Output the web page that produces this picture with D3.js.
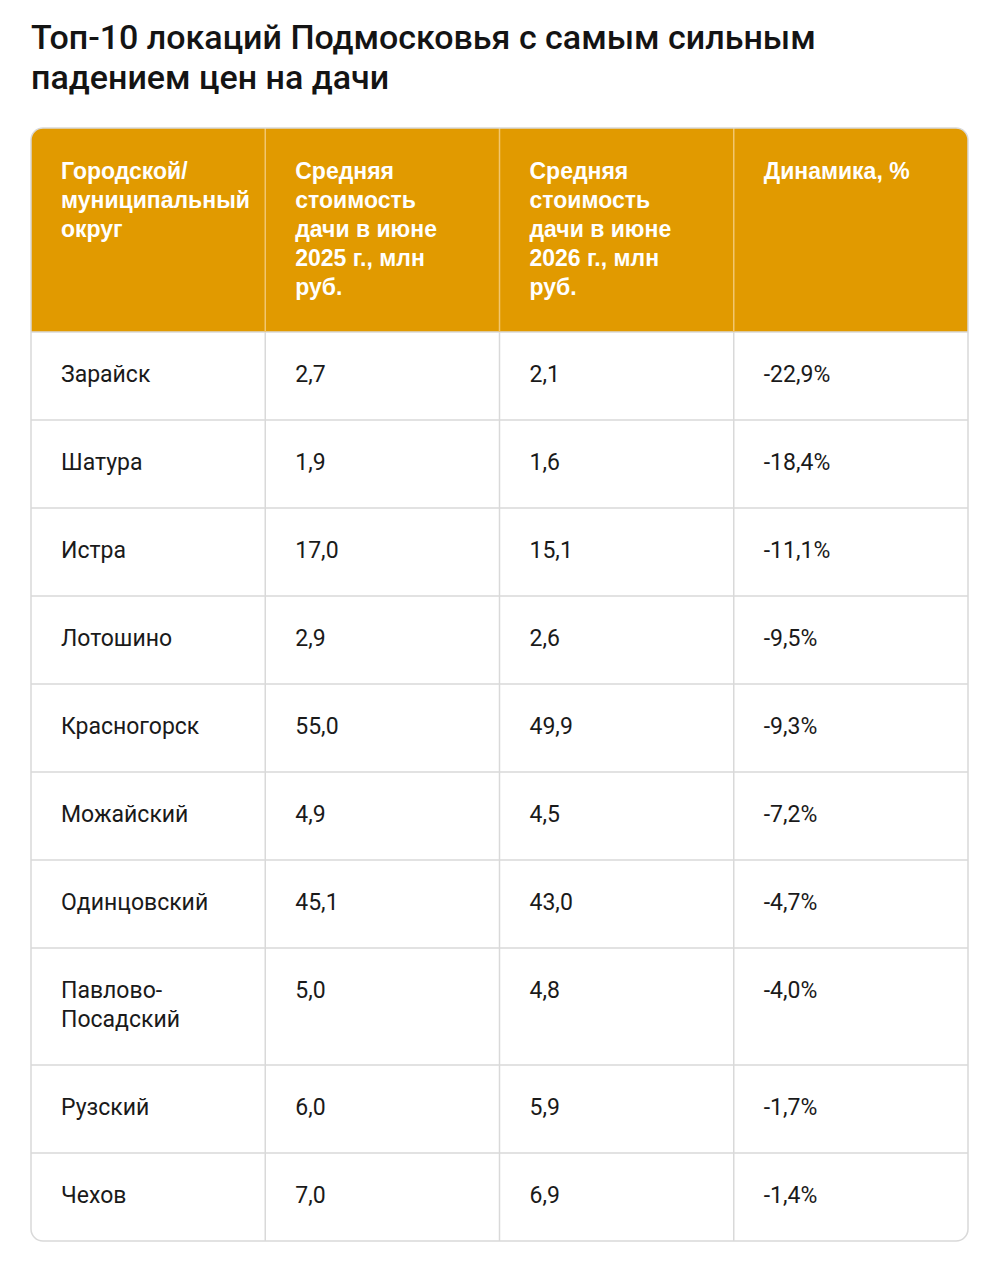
<!DOCTYPE html>
<html><head><meta charset="utf-8">
<script src="https://cdn.jsdelivr.net/npm/d3@7"></script>
<style>
html,body{margin:0;padding:0;background:#fff;}
svg{display:block;}
</style></head>
<body>
<script>
const title = ["Топ-10 локаций Подмосковья с самым сильным", "падением цен на дачи"];
const headers = [
  "Городской/\nмуниципальный\nокруг",
  "Средняя\nстоимость\nдачи в июне\n2025 г., млн\nруб.",
  "Средняя\nстоимость\nдачи в июне\n2026 г., млн\nруб.",
  "Динамика, %"
];
const districts = ["Зарайск","Шатура","Истра","Лотошино","Красногорск","Можайский","Одинцовский","Павлово-\nПосадский","Рузский","Чехов"];
const price2025 = ["2,7","1,9","17,0","2,9","55,0","4,9","45,1","5,0","6,0","7,0"];
const price2026 = ["2,1","1,6","15,1","2,6","49,9","4,5","43,0","4,8","5,9","6,9"];
const dynamics = ["-22,9%","-18,4%","-11,1%","-9,5%","-9,3%","-7,2%","-4,7%","-4,0%","-1,7%","-1,4%"];

(function(){
const W = 983, H = 1280;
const tLeft = 31, tRight = 968, tTop = 128;
const lineH = 29, padV = 29.5;
const orange = "#E19A00", border = "#D9D9D9";

const svg = d3.select("body").append("svg").attr("width", W).attr("height", H);

svg.append("g").selectAll("text").data(title).join("text")
  .attr("x", tLeft).attr("y", (d,i)=> 37 + i*40)
  .attr("dominant-baseline","central")
  .attr("font-family","Roboto, sans-serif").attr("font-weight",500)
  .attr("font-size",34).attr("fill","#141414").text(d=>d);

const rows = districts.map((d,i)=>[d, price2025[i], price2026[i], dynamics[i]]);
const allRows = [headers, ...rows];
const nLines = r => d3.max(r, c => c.split("\n").length);
const heights = allRows.map(r => nLines(r)*lineH + 2*padV);
const ys = [tTop]; heights.forEach(h => ys.push(ys[ys.length-1] + h));
const tBottom = ys[ys.length-1];

const x = d3.scaleBand().domain(d3.range(4)).range([tLeft, tRight]).paddingInner(0).paddingOuter(0);
const r = 12;

svg.append("defs").append("clipPath").attr("id","tbl")
  .append("rect").attr("x",tLeft).attr("y",tTop).attr("width",tRight-tLeft).attr("height",tBottom-tTop).attr("rx",r);

const g = svg.append("g").attr("clip-path","url(#tbl)");
g.append("rect").attr("x",tLeft).attr("y",tTop).attr("width",tRight-tLeft).attr("height",heights[0]).attr("fill",orange);

g.selectAll("line.h").data(ys.slice(1,-1)).join("line")
  .attr("x1",tLeft).attr("x2",tRight).attr("y1",d=>d).attr("y2",d=>d)
  .attr("stroke",border).attr("stroke-width",1.5);

[1,2,3].forEach(c=>{
  const xx = x(c);
  g.append("line").attr("x1",xx).attr("x2",xx).attr("y1",tTop).attr("y2",ys[1])
    .attr("stroke","#F2C66E").attr("stroke-width",1.5);
  g.append("line").attr("x1",xx).attr("x2",xx).attr("y1",ys[1]).attr("y2",tBottom)
    .attr("stroke",border).attr("stroke-width",1.5);
});

svg.append("rect").attr("x",tLeft).attr("y",tTop).attr("width",tRight-tLeft).attr("height",tBottom-tTop)
  .attr("rx",r).attr("fill","none").attr("stroke",border).attr("stroke-width",1.5);

allRows.forEach((row, ri)=>{
  row.forEach((cell, ci)=>{
    const t = svg.append("text")
      .attr("font-family", ri===0 ? "'Liberation Sans', Arial, sans-serif" : "Roboto, sans-serif")
      .attr("font-weight", ri===0 ? 700 : 400)
      .attr("font-size", ri===0 ? 23 : 23)
      .attr("fill", ri===0 ? "#FFFFFF" : "#1A1A1A");
    cell.split("\n").forEach((ln, li)=>{
      t.append("tspan").attr("x", x(ci) + 30)
        .attr("y", ys[ri] + padV + lineH/2 - 1.5 + li*lineH)
        .attr("dominant-baseline","central").text(ln);
    });
  });
});
})();
</script>
</body></html>
